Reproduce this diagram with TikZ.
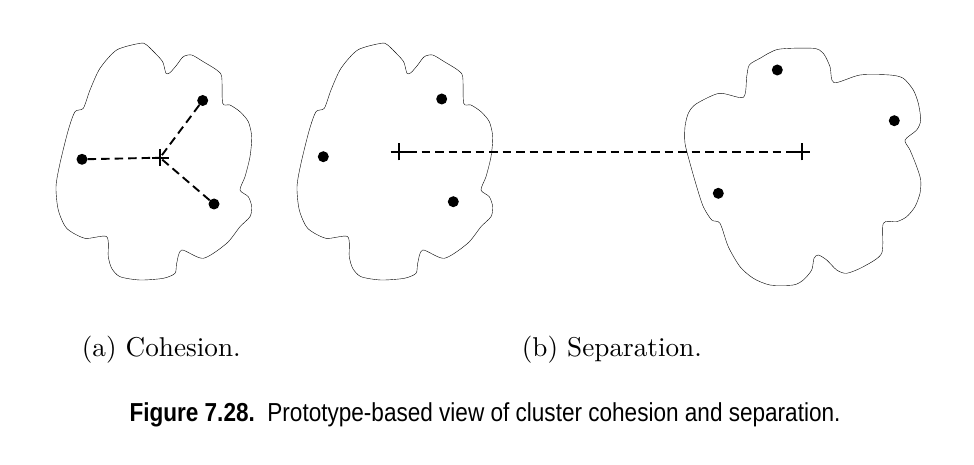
\documentclass[tikz,border=0pt]{standalone}
\usepackage{fontspec}
\usepackage{graphicx}
\newfontfamily\capfont{Liberation Sans}
\begin{document}
\begin{tikzpicture}[x=1pt,y=-1pt,
  blob/.style={draw=black,line width=0.9pt,smooth cycle,tension=0.45},
  pt/.style={circle,fill=black,inner sep=0pt,minimum size=11pt},
  link/.style={draw=black,line width=1.9pt,dash pattern=on 8.5pt off 5pt},
  plusmark/.style={line width=1.9pt},
  sublabel/.style={anchor=base west,inner sep=0pt},
]
\useasboundingbox (0,0) rectangle (974,465);
\def\blobA{(140,43.3) (146.7,45) (160,58.3) (163.3,63.3) (166,73.3) (170,72.7) (176.7,65) (183.3,56.7) (191.7,55) (203.3,61.7) (216.7,70) (221.7,76.7) (222.7,103.3) (230,105) (240,111.7) (248.3,121.7) (251.7,136.7) (250,156.7) (245,176.7) (240,190) (248.3,196.7) (251.7,206.7) (250,216.7) (240,226.7) (226.7,243.3) (203.3,258.3) (181.7,250) (176.7,263.3) (175,273.3) (163.3,278.3) (140,280) (120,276.7) (111.7,268.3) (108.3,256.7) (106.7,236.7) (85,238.3) (66.7,228.3) (58.3,210) (56,186.7) (60,163.3) (68.3,130) (75,111.7) (83.3,108.3) (90,90) (100,68.3) (116.7,50)}
% cluster (a)
\draw plot[blob] coordinates {\blobA};
\coordinate (ca) at (160,157.7);
\node[pt] (a1) at (82,159.3) {};
\node[pt] (a2) at (202.7,100.5) {};
\node[pt] (a3) at (214,204) {};
\draw[link] (a1) -- (ca);
\draw[link] (a2) -- (ca);
\draw[link] (a3) -- (ca);
\draw[plusmark] ([xshift=-8.5pt]ca) -- ([xshift=8.5pt]ca) ([yshift=-8.5pt]ca) -- ([yshift=8.5pt]ca);
% cluster (b) left
\begin{scope}[xshift=241pt]
\draw plot[blob] coordinates {\blobA};
\end{scope}
\coordinate (cb) at (399,152);
\node[pt] (b1) at (441.7,99) {};
\node[pt] (b2) at (323.3,156.7) {};
\node[pt] (b3) at (453.3,201.7) {};
% cluster (b) right
\draw plot[blob] coordinates {(778.3,49.3) (813.3,48.3) (823.3,53.3) (830,66.7) (834,82.7) (860,75) (890,75) (903.3,78.3) (913.3,90) (918.3,103.3) (920.7,120) (916.7,130) (905,140) (910,150) (916.7,166.7) (920.7,180) (920,193.3) (915,206.7) (906.7,216.7) (896.7,221.7) (883.3,223.3) (881.7,253.3) (863.3,266.7) (846.7,273.3) (836.7,270) (826.7,260) (818.3,255) (814,258.3) (811.7,270) (803.3,280) (793.3,285) (770,285) (753.3,278.3) (740,266.7) (728.3,246.7) (720,223.3) (711.7,220) (703.3,206.7) (696.7,186.7) (690,163.3) (685,143.3) (685,126.7) (688.3,113.3) (696,104) (719.3,93.3) (743.3,97.3) (746.7,76.7) (749.3,65) (760,58.3)};
\coordinate (cc) at (801.7,152);
\node[pt] (c1) at (777.3,70) {};
\node[pt] (c2) at (894.3,120.7) {};
\node[pt] (c3) at (718.3,193.3) {};
\draw[link] ([xshift=9pt]cb) -- ([xshift=-9pt]cc);
\draw[plusmark] ([xshift=-8.5pt]cb) -- ([xshift=8.5pt]cb) ([yshift=-8.5pt]cb) -- ([yshift=8.5pt]cb);
\draw[plusmark] ([xshift=-8.5pt]cc) -- ([xshift=8.5pt]cc) ([yshift=-8.5pt]cc) -- ([yshift=8.5pt]cc);
% labels
\node[sublabel] (la) at (81.7,356.5) {\scalebox{2.72}{(a) Cohesion.}};
\node[sublabel] (lb) at (521.7,356.5) {\scalebox{2.72}{(b) Separation.}};
\node[anchor=base west,inner sep=0pt] (cap) at (129.3,421.5)
  {\resizebox{711pt}{\height}{\capfont\fontsize{26}{30}\selectfont\textbf{Figure 7.28.}\ \ Prototype-based view of cluster cohesion and separation.}};
\end{tikzpicture}
\end{document}
